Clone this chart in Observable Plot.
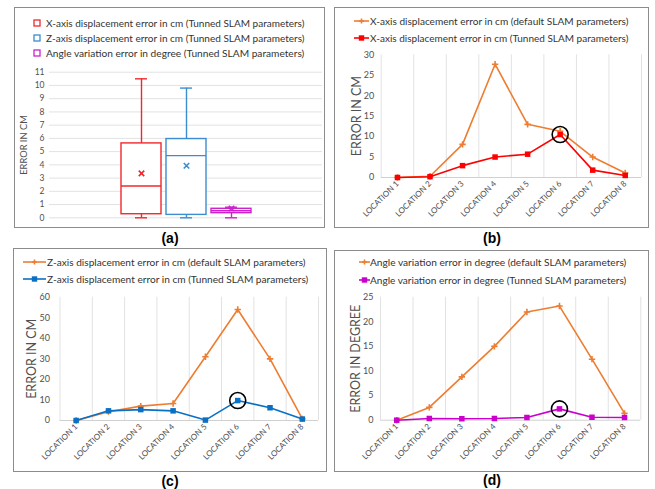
<!DOCTYPE html>
<html><head><meta charset="utf-8">
<script src="https://cdn.jsdelivr.net/npm/d3@7"></script>
<script src="https://cdn.jsdelivr.net/npm/@observablehq/plot@0.6"></script>
<style>
body{margin:0;background:#fff;font-family:Lato,"Noto Sans",sans-serif;}
#root{position:relative;width:655px;height:489px;overflow:hidden;background:#fff}
.frame{position:absolute;border:1px solid #8c8c8c;box-sizing:border-box;}
.leg{position:absolute;white-space:nowrap;color:#333;font-family:Lato,sans-serif;line-height:14px;height:14px}
.cap{position:absolute;font:bold 14px Arial,"Liberation Sans",sans-serif;color:#000;transform:translate(-50%,-50%)}
</style></head><body><div id="root"></div><script>
// ---------- data ----------
const locations = ["LOCATION 1","LOCATION 2","LOCATION 3","LOCATION 4","LOCATION 5","LOCATION 6","LOCATION 7","LOCATION 8"];
const xDefault = [0, 0.3, 8.1, 27.7, 13.0, 11.3, 5.0, 1.1];
const xTuned   = [0, 0.2, 2.9, 5.0, 5.7, 10.5, 1.8, 0.5];
const zDefault = [0, 4.3, 7.0, 8.3, 31.0, 54.0, 30.0, 0.8];
const zTuned   = [0, 4.7, 5.3, 4.7, 0.2, 9.7, 6.2, 0.7];
const angDefault = [0, 2.6, 8.8, 15.0, 22.0, 23.2, 12.4, 1.4];
const angTuned   = [0, 0.35, 0.3, 0.35, 0.55, 2.3, 0.6, 0.55];
const highlightLocation = "LOCATION 6";

const boxSeries = ["X-axis displacement error in cm (Tunned SLAM parameters)",
                   "Z-axis displacement error in cm (Tunned SLAM parameters)",
                   "Angle variation error in degree (Tunned SLAM parameters)"];
const boxMin    = [0, 0, 0];
const boxQ1     = [0.27, 0.22, 0.35];
const boxMedian = [2.4, 4.7, 0.53];
const boxQ3     = [5.62, 5.95, 0.68];
const boxMax    = [10.5, 9.8, 0.8];
const boxMean   = [3.36, 3.93, 0.7];

const yTicksA = [0,1,2,3,4,5,6,7,8,9,10,11];
const yTicksB = [0,5,10,15,20,25,30];
const yTicksC = [0,10,20,30,40,50,60];
const yTicksD = [0,5,10,15,20,25];

const legendB = ["X-axis displacement error in cm (default SLAM parameters)", "X-axis displacement error in cm (Tunned SLAM parameters)"];
const legendC = ["Z-axis displacement error in cm (default SLAM parameters)", "Z-axis displacement error in cm (Tunned SLAM parameters)"];
const legendD = ["Angle variation error in degree (default SLAM parameters)", "Angle variation error in degree (Tunned SLAM parameters)"];
const captions = ["(a)","(b)","(c)","(d)"];

// ---------- styles ----------
const ORANGE = "#ED7D31";
const boxColors = ["#F0282D", "#3C8DD0", "#CC22CC"];
const TEXT = "#505050";
const GRID = "#e2e2e2";

const root = document.getElementById("root");
function put(el, left, top){ el.style.left = left+"px"; el.style.top = top+"px"; root.appendChild(el); return el; }
function frame(l,t,w,h){ const d=document.createElement("div"); d.className="frame"; d.style.width=w+"px"; d.style.height=h+"px"; put(d,l,t); }
const ctx = document.createElement("canvas").getContext("2d");
function fitSize(text, target){ ctx.font = "10px Lato"; return 10*target/ctx.measureText(text).width; }

function legendRow({text, color, kind, mx, mw, tx, cy, tw}){
  const ns="http://www.w3.org/2000/svg";
  const s=document.createElementNS(ns,"svg");
  s.setAttribute("width", mw); s.setAttribute("height", 10);
  s.style.position="absolute";
  if(kind==="box"){
    const r=document.createElementNS(ns,"rect");
    r.setAttribute("x",1);r.setAttribute("y",2);r.setAttribute("width",mw-2);r.setAttribute("height",mw-2);
    r.setAttribute("fill","none");r.setAttribute("stroke",color);r.setAttribute("stroke-width",1.3);
    s.appendChild(r);
  } else {
    const ln=document.createElementNS(ns,"line");
    ln.setAttribute("x1",0);ln.setAttribute("x2",mw);ln.setAttribute("y1",5);ln.setAttribute("y2",5);
    ln.setAttribute("stroke",color);ln.setAttribute("stroke-width",1.6);s.appendChild(ln);
    if(kind==="square"){
      const r=document.createElementNS(ns,"rect");
      r.setAttribute("x",mw/2-2.7);r.setAttribute("y",2.3);r.setAttribute("width",5.4);r.setAttribute("height",5.4);
      r.setAttribute("fill",color);s.appendChild(r);
    } else {
      const p=document.createElementNS(ns,"path");
      const c=mw/2;
      p.setAttribute("d",`M${c-2.5},5H${c+2.5}M${c},2.5V7.5`);p.setAttribute("stroke",color);p.setAttribute("stroke-width",1.6);
      s.appendChild(p);
    }
  }
  put(s, mx, cy-5);
  const t=document.createElement("div"); t.className="leg"; t.textContent=text;
  t.style.fontSize = fitSize(text, tw)+"px";
  put(t, tx, cy-7);
}

// ---------- panel frames ----------
frame(14,7,311,221);
frame(334,7,315,221);
frame(13,248,314,224);
frame(334,250,315,222);

// ---------- (a) box plot ----------
const boxData = boxSeries.map((s,i)=>({s, min:boxMin[i], q1:boxQ1[i], med:boxMedian[i], q3:boxQ3[i], max:boxMax[i], mean:boxMean[i]}));
const plotA = Plot.plot({
  width:311, height:221,
  marginLeft:35, marginRight:3, marginTop:64.7, marginBottom:10.7,
  style:{fontFamily:"Lato, sans-serif", background:"transparent"},
  x:{type:"band", domain:boxSeries, paddingInner:0.12, paddingOuter:1.56, axis:null},
  y:{domain:[0,11], axis:null},
  color:{domain:boxSeries, range:boxColors},
  marks:[
    Plot.ruleY(yTicksA, {stroke:GRID, strokeWidth:1}),
    Plot.axisY(yTicksA, {tickSize:0, tickPadding:5, fontSize:8.5, color:TEXT, label:null}),
    Plot.text(["ERROR IN CM"], {frameAnchor:"left", textAnchor:"middle", rotate:-90, dx:-25, fontSize:9.3, fill:TEXT}),
    Plot.ruleX(boxData, {x:"s", y1:"min", y2:"q1", stroke:"s", strokeWidth:1.4}),
    Plot.ruleX(boxData, {x:"s", y1:"q3", y2:"max", stroke:"s", strokeWidth:1.4}),
    Plot.tickY(boxData, {x:"s", y:"max", stroke:"s", strokeWidth:1.4, inset:14}),
    Plot.tickY(boxData, {x:"s", y:"min", stroke:"s", strokeWidth:1.4, inset:14}),
    Plot.barY(boxData, {x:"s", y1:"q1", y2:"q3", fill:"white", stroke:"s", strokeWidth:1.4}),
    Plot.tickY(boxData, {x:"s", y:"med", stroke:"s", strokeWidth:1.4}),
    Plot.dot(boxData, {x:"s", y:"mean", symbol:"times", r:2.6, stroke:"s", strokeWidth:1.6})
  ]
});
plotA.style.position="absolute"; put(plotA, 14, 7);
boxSeries.forEach((s,i)=>legendRow({text:s, color:boxColors[i], kind:"box", mx:33, mw:8, tx:46, cy:[22.5,37.7,53][i], tw:259}));

// ---------- line panels ----------
function linePanel({left, top, width, height, margins, defaults, tuned, tunedColor, yDomain, yTicks, yLabel, yLabelDx, tickPad}){
  const data = locations.map((loc,i)=>({loc, i:i+1, d:defaults[i], t:tuned[i]}));
  const idx = locations.map((_,i)=>i+1);
  const bounds = [0.5, ...idx.map(i=>i+0.5)];
  const p = Plot.plot({
    width, height, ...margins,
    style:{fontFamily:"Lato, sans-serif", background:"transparent"},
    x:{type:"linear", domain:[0.5, locations.length+0.5], axis:null},
    y:{domain:yDomain, axis:null},
    marks:[
      Plot.ruleX(bounds, {stroke:GRID, strokeWidth:1}),
      Plot.ruleY([yDomain[0]], {stroke:"#d0d0d0", strokeWidth:1}),
      Plot.axisY(yTicks, {tickSize:0, tickPadding:tickPad, fontSize:9, color:TEXT, label:null}),
      Plot.axisX(idx, {tickSize:0, tickPadding:5, tickRotate:-45, textAnchor:"end", fontSize:8, color:"#4a4a4a", label:null,
                        tickFormat:i=>locations[i-1]}),
      Plot.text([yLabel], {frameAnchor:"left", textAnchor:"middle", rotate:-90, dx:yLabelDx, fontSize:12.5, fill:TEXT}),
      Plot.line(data, {x:"i", y:"d", stroke:ORANGE, strokeWidth:1.6}),
      Plot.dot(data, {x:"i", y:"d", symbol:"plus", r:2.2, stroke:ORANGE, strokeWidth:1.6}),
      Plot.line(data, {x:"i", y:"t", stroke:tunedColor, strokeWidth:1.6}),
      Plot.dot(data, {x:"i", y:"t", symbol:"square", r:3.1, fill:tunedColor}),
      Plot.dot(data.filter(d=>d.loc===highlightLocation), {x:"i", y:"t", r:8, stroke:"black", strokeWidth:1.6, fill:"none"})
    ]
  });
  p.style.position="absolute"; put(p, left, top);
}

// (b)
linePanel({left:334, top:7, width:315, height:221,
  margins:{marginLeft:46.7, marginRight:8, marginTop:47.3, marginBottom:51},
  defaults:xDefault, tuned:xTuned, tunedColor:"#FF0000",
  yDomain:[0,30], yTicks:yTicksB, yLabel:"ERROR IN CM", yLabelDx:-24.4, tickPad:7});
legendRow({text:legendB[0], color:ORANGE, kind:"plus", mx:354, mw:15, tx:370, cy:21.3, tw:259});
legendRow({text:legendB[1], color:"#FF0000", kind:"square", mx:354, mw:15, tx:370, cy:37.7, tw:259});

// (c)
linePanel({left:13, top:248, width:314, height:224,
  margins:{marginLeft:46.5, marginRight:9, marginTop:48.7, marginBottom:52},
  defaults:zDefault, tuned:zTuned, tunedColor:"#0A70C4",
  yDomain:[0,60], yTicks:yTicksC, yLabel:"ERROR IN CM", yLabelDx:-27.8, tickPad:10});
legendRow({text:legendC[0], color:ORANGE, kind:"plus", mx:23, mw:23, tx:47, cy:262.3, tw:259});
legendRow({text:legendC[1], color:"#0A70C4", kind:"square", mx:23, mw:23, tx:47, cy:279.3, tw:262});

// (d)
linePanel({left:334, top:250, width:315, height:222,
  margins:{marginLeft:46, marginRight:8.7, marginTop:46.7, marginBottom:52.3},
  defaults:angDefault, tuned:angTuned, tunedColor:"#CC00CC",
  yDomain:[0,25], yTicks:yTicksD, yLabel:"ERROR IN DEGREE", yLabelDx:-24.7, tickPad:7});
legendRow({text:legendD[0], color:ORANGE, kind:"plus", mx:359, mw:11, tx:370, cy:262.3, tw:257});
legendRow({text:legendD[1], color:"#CC00CC", kind:"square", mx:359, mw:11, tx:370, cy:279.7, tw:257});

// captions
[[170,238],[492,238],[170,481],[492,480]].forEach(([x,y],i)=>{
  const c=document.createElement("div"); c.className="cap"; c.textContent=captions[i]; put(c,x,y);
});
</script></body></html>
